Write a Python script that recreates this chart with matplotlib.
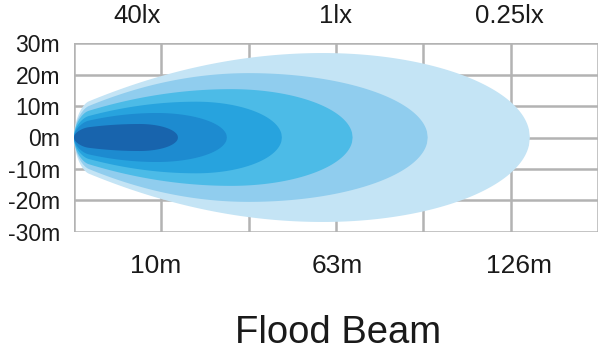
import numpy as np
import matplotlib
matplotlib.use("Agg")
import matplotlib.pyplot as plt

plt.rcParams['font.family'] = ['Liberation Sans', 'DejaVu Sans']

# ---- data ----
y_ticks = [30, 20, 10, 0, -10, -20, -30]
y_tick_labels = ["30m", "20m", "10m", "0m", "-10m", "-20m", "-30m"]
lux_labels = ["40lx", "1lx", "0.25lx"]
distance_labels = ["10m", "63m", "126m"]
title = "Flood Beam"

# beam layers, outer -> inner (x in grid columns, y in metres)
beam_reach = [5.22, 4.05, 3.19, 2.38, 1.75, 1.19]
beam_peak_x = [2.85, 2.0, 1.8, 1.4, 0.95, 0.75]
beam_peak_h = [26.9, 20.5, 15.4, 11.4, 7.8, 4.3]
beam_nose_h = [9.5, 8.0, 7.0, 5.5, 4.2, 2.6]
beam_colors = ["#c4e4f5", "#90cdee", "#4cbbe7", "#27a3de", "#1d8bd0", "#1864ad"]

# ---- layout ----
lux_pos = [0.72, 2.99, 4.99]
dist_pos = [0.93, 3.01, 5.1]
n_cols = 6


def beam_outline(reach, px, ph, nh, nose_len=0.17, n=500):
    x = np.linspace(0, reach, n)
    left = nh + (ph - nh) * (1 - (1 - np.minimum(x / px, 1)) ** 2)
    t = np.clip((x - px) / (reach - px), 0, 1)
    right = ph * np.sqrt(np.clip(1 - t ** 2, 0, None))
    h = np.where(x <= px, left, right)
    nose = np.sqrt(np.clip(1 - (1 - np.minimum(x / nose_len, 1)) ** 2, 0, None))
    h = h * nose
    xs = np.concatenate([x, x[::-1]])
    ys = np.concatenate([h, -h[::-1]])
    return xs, ys


fig = plt.figure(figsize=(6.0, 3.57), dpi=100)
ax = fig.add_axes([74 / 600, 1 - 231.7 / 357, 524 / 600, (231.7 - 43.3) / 357])
ax.set_xlim(0, n_cols)
ax.set_ylim(-30, 30)

grid_c = "#b3b3b3"
for xv in range(n_cols + 1):
    ax.axvline(xv, color=grid_c, lw=1.8, zorder=1)
for yv in y_ticks:
    ax.axhline(yv, color=grid_c, lw=1.8, zorder=1)

for r, px, ph, nh, c in zip(beam_reach, beam_peak_x, beam_peak_h, beam_nose_h, beam_colors):
    xs, ys = beam_outline(r, px, ph, nh)
    ax.fill(xs, ys, color=c, lw=0, zorder=2)

for s in ax.spines.values():
    s.set_visible(False)
ax.set_xticks([])
ax.set_yticks(y_ticks)
ax.set_yticklabels(y_tick_labels)
ax.tick_params(axis='y', length=0, pad=10, labelsize=16.5, labelcolor="#1a1a1a")

text_c = "#1a1a1a"
for lbl, xp in zip(lux_labels, lux_pos):
    ax.text(xp, 1 + 20 / 188.4, lbl, transform=ax.get_xaxis_transform(),
            ha='center', va='baseline', fontsize=18.5, color=text_c)
for lbl, xp in zip(distance_labels, dist_pos):
    ax.text(xp, -(273 - 231.7) / 188.4, lbl, transform=ax.get_xaxis_transform(),
            ha='center', va='baseline', fontsize=19, color=text_c)

fig.text(338 / 600, 1 - 343 / 357, title, ha='center', va='baseline',
         fontsize=27.5, color=text_c)

fig.savefig("out.png", dpi=100, facecolor="white")
